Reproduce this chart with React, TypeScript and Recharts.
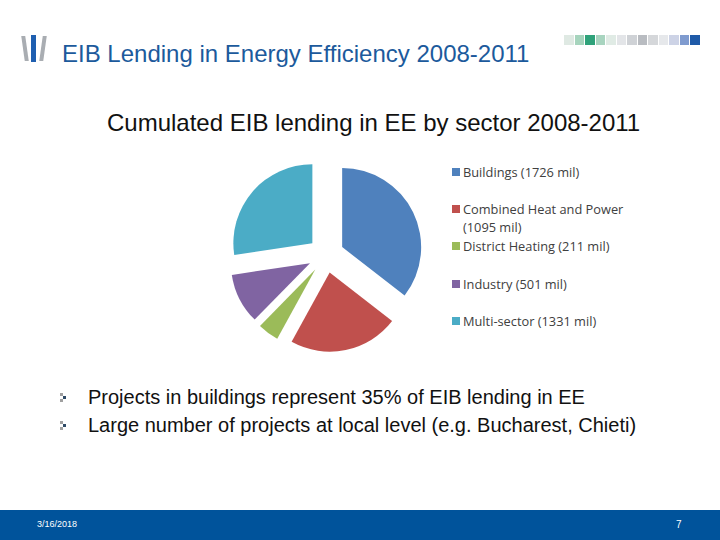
import React from 'react';
import { PieChart, Pie, Cell, Sector, Legend } from 'recharts';

const sectors = ['Buildings', 'Combined Heat and Power', 'District Heating', 'Industry', 'Multi-sector'];
const lending = [1726, 1095, 211, 501, 1331];
const colors = ['#4F81BD', '#C0504D', '#9BBB59', '#8064A2', '#4BACC6'];
const bullets = [
  'Projects in buildings represent 35% of EIB lending in EE',
  'Large number of projects at local level (e.g. Bucharest, Chieti)',
];
const stripColors = [
  '#dfe9e3', '#a6d4bd', '#2fa27a', '#a8d4bf', '#e0ebe5', '#e3e5e8', '#cfd2d6',
  '#b9bcc1', '#d5d7da', '#e6e8eb', '#cdd3e6', '#7f9bcf', '#1f5aa8',
];

const chartData = sectors.map((name, i) => ({
  name,
  amount: `(${lending[i]} mil)`,
  value: lending[i],
}));

const RADIAN = Math.PI / 180;
const EXPLODE = 18;

// every slice pulled out along its mid angle, like the Excel exploded pie
const ExplodedSlice = (props: any) => {
  const { cx, cy, midAngle, innerRadius, outerRadius, startAngle, endAngle, fill } = props;
  const dx = EXPLODE * Math.cos(-midAngle * RADIAN);
  const dy = EXPLODE * Math.sin(-midAngle * RADIAN);
  return (
    <Sector
      cx={cx + dx}
      cy={cy + dy}
      innerRadius={innerRadius}
      outerRadius={outerRadius}
      startAngle={startAngle}
      endAngle={endAngle}
      fill={fill}
    />
  );
};

const LegendList = () => (
  <div style={{ fontFamily: '"Open Sans", sans-serif', fontSize: 12.8, color: '#404040' }}>
    {chartData.map((d, i) => (
      <div
        key={d.name}
        style={{
          position: 'absolute',
          top: [0, 37, 74, 112, 149][i],
          left: 0,
          display: 'flex',
          alignItems: 'flex-start',
          lineHeight: '18px',
          whiteSpace: 'nowrap',
        }}
      >
        <span style={{ width: 8, height: 8, background: colors[i], marginTop: 5, marginRight: 3, flex: 'none' }} />
        {/* the long CHP label wraps its amount onto a second line */}
        {i === 1 ? (
          <span>
            {d.name}
            <br />
            {d.amount}
          </span>
        ) : (
          <span>{`${d.name} ${d.amount}`}</span>
        )}
      </div>
    ))}
  </div>
);

export default function App() {
  return (
    <div
      style={{
        position: 'absolute',
        top: 0,
        left: 0,
        width: 720,
        height: 540,
        background: '#fff',
        overflow: 'hidden',
        fontFamily: '"Liberation Sans", Arial, sans-serif',
      }}
    >
      {/* Logo bars */}
      <div style={{ position: 'absolute', left: 23, top: 36, width: 4, height: 25, background: '#a9adb2', transform: 'skewX(8deg)' }} />
      <div style={{ position: 'absolute', left: 31, top: 35, width: 5, height: 27, background: '#1f5fb0' }} />
      <div style={{ position: 'absolute', left: 41, top: 36, width: 4, height: 25, background: '#a9adb2', transform: 'skewX(-8deg)' }} />

      {/* Title */}
      <div style={{ position: 'absolute', left: 62, top: 40, fontSize: 24, lineHeight: '28px', color: '#1c5a9c', whiteSpace: 'nowrap' }}>
        EIB Lending in Energy Efficiency 2008-2011
      </div>

      {/* Colour strip top right */}
      <div style={{ position: 'absolute', left: 564, top: 35, display: 'flex' }}>
        {stripColors.map((c, i) => (
          <div key={i} style={{ width: 9.5, height: 10, background: c, marginRight: 1 }} />
        ))}
      </div>

      {/* Chart title */}
      <div style={{ position: 'absolute', left: 107, top: 109, fontSize: 24, lineHeight: '28px', color: '#111', whiteSpace: 'nowrap' }}>
        Cumulated EIB lending in EE by sector 2008-2011
      </div>

      <div style={{ position: 'absolute', left: 0, top: 0 }}>
        <PieChart width={720} height={500}>
          <Pie
            data={chartData}
            dataKey="value"
            nameKey="name"
            cx={321}
            cy={250}
            outerRadius={79}
            startAngle={90}
            endAngle={-270}
            stroke="none"
            shape={ExplodedSlice}
            isAnimationActive={false}
          >
            {chartData.map((d, i) => (
              <Cell key={d.name} fill={colors[i]} />
            ))}
          </Pie>
          <Legend
            content={<LegendList />}
            wrapperStyle={{ position: 'absolute', left: 452, top: 163, width: 220, height: 180 }}
          />
        </PieChart>
      </div>

      {/* Bullets */}
      {bullets.map((b, i) => (
        <div key={i} style={{ position: 'absolute', left: 59, top: 385 + i * 28 }}>
          <div style={{ position: 'absolute', left: 1, top: 8, width: 3, height: 3, background: '#a0a0a0' }} />
          <div style={{ position: 'absolute', left: 4, top: 11, width: 3, height: 3, background: '#2e4a66' }} />
          <div style={{ position: 'absolute', left: 1, top: 14, width: 3, height: 3, background: '#a0a0a0' }} />
          <div style={{ position: 'absolute', left: 29, top: 0, fontSize: 20, lineHeight: '24px', color: '#111', whiteSpace: 'nowrap' }}>{b}</div>
        </div>
      ))}

      {/* Footer */}
      <div style={{ position: 'absolute', left: 0, top: 510, width: 720, height: 30, background: '#00539b' }}>
        <div style={{ position: 'absolute', left: 37, top: 9, fontSize: 9, color: '#fff' }}>3/16/2018</div>
        <div style={{ position: 'absolute', left: 676, top: 9, fontSize: 10, color: '#fff' }}>7</div>
      </div>
    </div>
  );
}
